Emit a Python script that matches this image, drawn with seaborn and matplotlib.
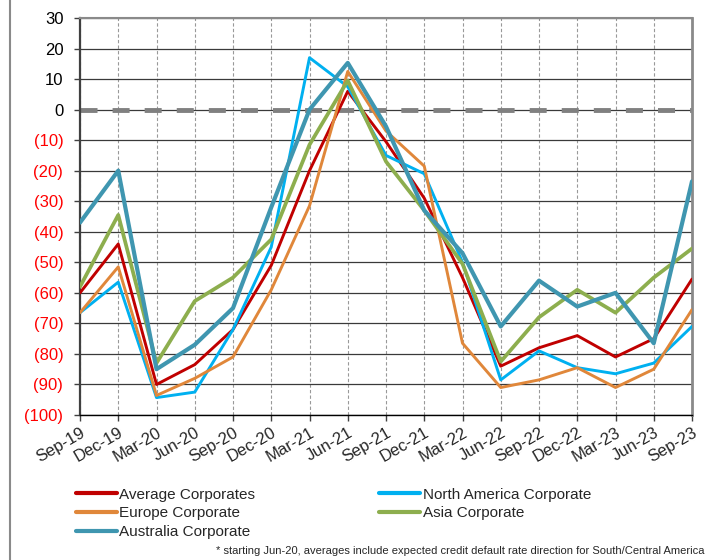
import pandas as pd
import matplotlib.pyplot as plt
import seaborn as sns
from matplotlib.lines import Line2D

quarters = ['Sep-19', 'Dec-19', 'Mar-20', 'Jun-20', 'Sep-20', 'Dec-20', 'Mar-21', 'Jun-21', 'Sep-21',
            'Dec-21', 'Mar-22', 'Jun-22', 'Sep-22', 'Dec-22', 'Mar-23', 'Jun-23', 'Sep-23']

average = [-60, -44, -90, -83.5, -72, -51, -20, 6, -10.5, -29, -55, -84, -78, -74, -81, -75, -55.5]
north_america = [-66.5, -56.5, -94.3, -92.5, -72, -45, 17, 7.5, -15, -21, -50, -88.5, -79, -84.5, -86.5, -83, -71]
europe = [-66.5, -51.5, -93.6, -88, -81, -59, -31.5, 12.5, -7, -18.5, -76.5, -91, -88.5, -84.5, -91, -85, -65.5]
asia = [-58, -34.5, -83, -62.7, -55, -42.5, -11.5, 9.5, -17, -33, -50.5, -82.5, -68, -59, -66.5, -55, -45.5]
australia = [-37, -20, -85, -77, -65, -32, 0, 15.3, -5.5, -33, -47, -71, -56, -64.5, -60, -76.5, -23.5]

series = ['Average Corporates', 'North America Corporate', 'Europe Corporate', 'Asia Corporate', 'Australia Corporate']
values = [average, north_america, europe, asia, australia]
colors = ['#C00000', '#00B0F0', '#E0873A', '#8DAE4E', '#3F96B0']
widths = [2.1, 2.1, 2.1, 2.7, 3.0]

y_ticks = list(range(30, -101, -10))

df = pd.DataFrame({
    'quarter': quarters * len(series),
    'value': [v for vals in values for v in vals],
    'series': [s for s in series for _ in quarters],
})

sns.set_style('white')
plt.rcParams['font.family'] = ['Liberation Sans', 'DejaVu Sans']

fig = plt.figure(figsize=(7.08, 5.6), dpi=100)
ax = fig.add_axes([80 / 708, 1 - 415 / 560, 612 / 708, 397 / 560])

# grid first
for y in y_ticks:
    ax.axhline(y, color='#3a3a3a', lw=0.9, zorder=1)
ax.axhline(0, color='#808080', lw=3.5, dashes=(3.5, 3.1), zorder=2)

for name, col, lw in zip(series, colors, widths):
    sns.lineplot(data=df[df['series'] == name], x='quarter', y='value', color=col,
                 linewidth=lw, label=name, ax=ax, zorder=3, sort=False)

ax.set_xlim(0, len(quarters) - 1)
ax.set_ylim(-100, 30)
ax.set_yticks(y_ticks)
ax.set_yticklabels([str(t) if t >= 0 else f'({-t})' for t in y_ticks], fontsize=12)
for lab, t in zip(ax.get_yticklabels(), y_ticks):
    lab.set_color('black' if t >= 0 else 'red')

ax.set_xticks(range(len(quarters)))
ax.set_xticklabels(quarters, rotation=30, ha='right', rotation_mode='anchor', fontsize=12)
ax.xaxis.grid(True, color='#999999', lw=0.8, linestyle=(0, (3, 2)))
ax.set_axisbelow(True)
ax.tick_params(axis='both', direction='out', length=4, width=1, color='#404040', left=True, bottom=True)
ax.tick_params(axis='y', pad=8)
ax.tick_params(axis='x', pad=3)
ax.set_xlabel('')
ax.set_ylabel('')

ax.spines['left'].set_color('#404040')
ax.spines['left'].set_linewidth(1.6)
ax.spines['bottom'].set_color('black')
ax.spines['bottom'].set_linewidth(1.0)
ax.spines['top'].set_color('#8a8a8a')
ax.spines['top'].set_linewidth(1.5)
ax.spines['right'].set_color('#8a8a8a')
ax.spines['right'].set_linewidth(2.0)

handles, labels = ax.get_legend_handles_labels()
order = [0, 2, 4, 1, 3]
ax.get_legend().remove()
leg = fig.legend([handles[i] for i in order], [labels[i] for i in order], ncol=2, frameon=False,
                 loc='upper left', bbox_to_anchor=(62 / 708, 1 - 474 / 560), fontsize=11,
                 handlelength=2.7, handletextpad=0.15, columnspacing=8.1, labelspacing=0.3)
for h in leg.legend_handles:
    h.set_linewidth(3)

fig.text(705 / 708, 1 - 551 / 560, '* starting Jun-20, averages include expected credit default rate direction for South/Central America',
         ha='right', va='center', fontsize=8)

fig.add_artist(Line2D([10 / 708, 10 / 708], [0, 1], color='#8a8a8a', lw=1.5))

fig.savefig('out.png', dpi=100)
